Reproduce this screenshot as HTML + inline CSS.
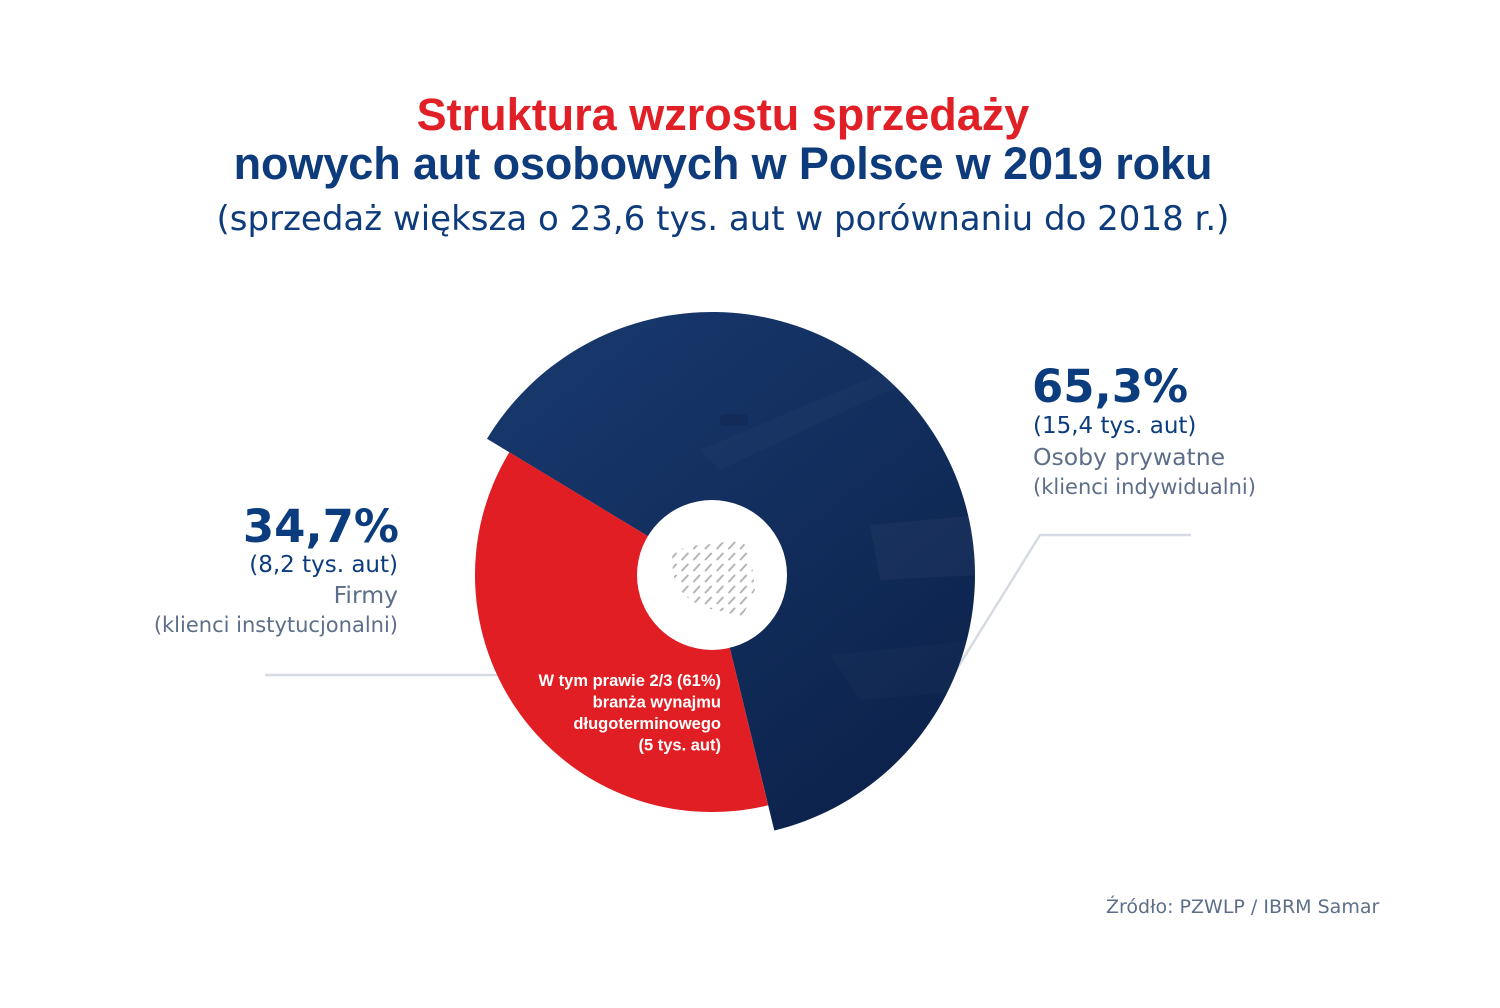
<!DOCTYPE html>
<html>
<head>
<meta charset="utf-8">
<style>
  html,body{margin:0;padding:0;background:#fff;}
  svg{display:block;}
</style>
</head>
<body>
<svg width="1500" height="1008" viewBox="0 0 1500 1008" xmlns="http://www.w3.org/2000/svg">
  <defs>
    <linearGradient id="bl" x1="490" y1="315" x2="900" y2="830" gradientUnits="userSpaceOnUse">
      <stop offset="0" stop-color="#19396f"/>
      <stop offset="0.5" stop-color="#122e5d"/>
      <stop offset="1" stop-color="#0b2149"/>
    </linearGradient>
    <clipPath id="blueClip">
      <path d="M 712 575 L 487.0 438.8 A 263 263 0 1 1 774.3 830.5 Z"/>
    </clipPath>
    <pattern id="dash" patternUnits="userSpaceOnUse" width="11.7" height="11" x="668" y="540">
      <line x1="2.5" y1="8.5" x2="8" y2="2.5" stroke="#9a9a9a" stroke-width="2" stroke-linecap="round" opacity="0.75"/>
    </pattern>
  </defs>

  <rect width="1500" height="1008" fill="#fff"/>

  <!-- Title -->
  <text x="723" y="130" text-anchor="middle" font-family="'Liberation Sans', sans-serif" font-weight="bold" font-size="45" fill="#e11f26">Struktura wzrostu sprzedaży</text>
  <text x="723" y="179" text-anchor="middle" font-family="'Liberation Sans', sans-serif" font-weight="bold" font-size="45" fill="#0d3b7b" letter-spacing="-0.1">nowych aut osobowych w Polsce w 2019 roku</text>
  <text x="723" y="230" text-anchor="middle" font-family="'DejaVu Sans', sans-serif" font-size="34" fill="#0d3b7b">(sprzedaż większa o 23,6 tys. aut w porównaniu do 2018 r.)</text>

  <!-- connector lines -->
  <line x1="265" y1="675" x2="500" y2="675" stroke="#d6dbe3" stroke-width="2.5"/>
  <polyline points="955,672 1040,535 1191,535" fill="none" stroke="#d6dbe3" stroke-width="2.5"/>

  <!-- Blue slice -->
  <path d="M 712 575 L 487.0 438.8 A 263 263 0 1 1 774.3 830.5 Z" fill="url(#bl)"/>
  <g clip-path="url(#blueClip)">
    <path d="M 700 450 L 960 340 L 975 350 L 720 470 Z" fill="#ffffff" opacity="0.02"/>
    <path d="M 870 525 L 980 515 L 980 575 L 880 580 Z" fill="#ffffff" opacity="0.035"/>
    <path d="M 830 655 L 980 640 L 980 690 L 860 700 Z" fill="#ffffff" opacity="0.02"/>
    <rect x="720" y="414" width="28" height="12" rx="4" fill="#0a1a3c" opacity="0.25"/>
  </g>

  <!-- Red slice -->
  <path d="M 712 575 L 768.1 805.3 A 237 237 0 0 1 509.3 452.2 Z" fill="#e01e23"/>

  <!-- Hole -->
  <circle cx="712" cy="575" r="75" fill="#ffffff"/>
  <polygon points="672,552 690,546 712,544 740,540 748,548 752,565 755,590 748,605 742,617 725,612 705,608 690,600 680,590 673,575" fill="url(#dash)"/>

  <!-- Red slice text -->
  <g font-family="'Liberation Sans', sans-serif" font-weight="bold" font-size="16.5" fill="#ffffff" text-anchor="end">
    <text x="721" y="686">W tym prawie 2/3 (61%)</text>
    <text x="721" y="707.5">branża wynajmu</text>
    <text x="721" y="729">długoterminowego</text>
    <text x="721" y="750.5">(5 tys. aut)</text>
  </g>

  <!-- Right labels -->
  <g font-family="'DejaVu Sans', sans-serif">
    <text x="1032" y="402" font-weight="bold" font-size="45" fill="#0b3c7d">65,3%</text>
    <text x="1033" y="433" font-size="23" fill="#0b3c7d">(15,4 tys. aut)</text>
    <text x="1033" y="465" font-size="23.5" fill="#5d6e89">Osoby prywatne</text>
    <text x="1033" y="494" font-size="21" fill="#5d6e89">(klienci indywidualni)</text>
  </g>

  <!-- Left labels -->
  <g font-family="'DejaVu Sans', sans-serif" text-anchor="end">
    <text x="399" y="542" font-weight="bold" font-size="45" fill="#0b3c7d">34,7%</text>
    <text x="398" y="572" font-size="23" fill="#0b3c7d">(8,2 tys. aut)</text>
    <text x="398" y="603" font-size="23.5" fill="#5d6e89">Firmy</text>
    <text x="398" y="632" font-size="21" fill="#5d6e89">(klienci instytucjonalni)</text>
  </g>

  <!-- Source -->
  <text x="1106" y="913" font-family="'DejaVu Sans', sans-serif" font-size="19" fill="#5d6e89">Źródło: PZWLP / IBRM Samar</text>
</svg>
</body>
</html>
